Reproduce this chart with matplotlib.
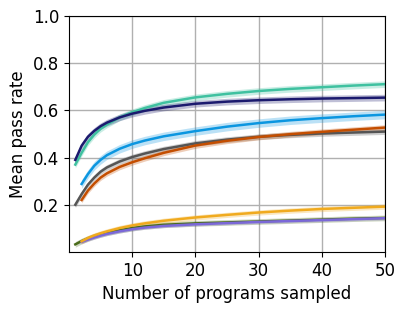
import numpy as np
import matplotlib
matplotlib.use("Agg")
import matplotlib.pyplot as plt

nan = np.nan
samples = [1, 2, 3, 4, 5, 6, 8, 10, 12, 15, 20, 25, 30, 35, 40, 45, 50]

teal = [0.37, 0.42, 0.465, 0.497, 0.522, 0.54, 0.57, 0.592, 0.61, 0.632, 0.655, 0.67, 0.682, 0.691, 0.698, 0.705, 0.711]
navy = [0.39, 0.45, 0.488, 0.513, 0.533, 0.548, 0.57, 0.586, 0.598, 0.612, 0.628, 0.637, 0.643, 0.647, 0.650, 0.652, 0.654]
lightblue = [nan, 0.288, 0.33, 0.365, 0.39, 0.41, 0.437, 0.457, 0.472, 0.49, 0.512, 0.531, 0.546, 0.558, 0.567, 0.575, 0.582]
gray = [0.20, 0.245, 0.285, 0.315, 0.34, 0.358, 0.383, 0.402, 0.417, 0.436, 0.46, 0.476, 0.488, 0.496, 0.502, 0.506, 0.51]
orange = [nan, 0.22, 0.26, 0.29, 0.315, 0.333, 0.36, 0.38, 0.397, 0.42, 0.451, 0.471, 0.487, 0.499, 0.509, 0.518, 0.527]
yellow = [nan, 0.045, 0.059, 0.07, 0.079, 0.087, 0.101, 0.112, 0.121, 0.132, 0.146, 0.157, 0.167, 0.175, 0.182, 0.187, 0.192]
green = [0.032, 0.046, 0.057, 0.066, 0.074, 0.081, 0.092, 0.101, 0.108, 0.115, 0.121, 0.125, 0.129, 0.133, 0.137, 0.141, 0.144]
purple = [nan, 0.042, 0.052, 0.061, 0.069, 0.076, 0.087, 0.096, 0.103, 0.11, 0.117, 0.122, 0.127, 0.131, 0.135, 0.139, 0.143]

spread = [0.012, 0.012, 0.018, 0.014, 0.014, 0.012, 0.007, 0.011]
series = [gray, orange, lightblue, teal, navy, green, purple, yellow]
colors = ["#555555", "#c44e00", "#0b96e0", "#3fc1a0", "#1b1a6e", "#4a6b1a", "#7b68d8", "#f0aa1e"]

fig = plt.figure(figsize=(4.07, 3.11), dpi=100)
ax = fig.add_axes([0.1695, 0.19, 0.7765, 0.7586])

x = np.array(samples)
for y, c, s in zip(series, colors, spread):
    y = np.array(y)
    ax.fill_between(x, y - s, y + s, color=c, alpha=0.28, linewidth=0)
    ax.plot(x, y, color=c, linewidth=1.8)

ax.set_xlim(0, 50)
ax.set_ylim(0, 1.0)
ax.set_xticks([10, 20, 30, 40, 50])
ax.set_yticks([0.2, 0.4, 0.6, 0.8, 1.0])
ax.grid(True, color="#b0b0b0", linewidth=1)
ax.set_axisbelow(True)
ax.tick_params(labelsize=12)
ax.set_xlabel("Number of programs sampled", fontsize=12)
ax.set_ylabel("Mean pass rate", fontsize=12)

fig.savefig("out.png", dpi=100)
